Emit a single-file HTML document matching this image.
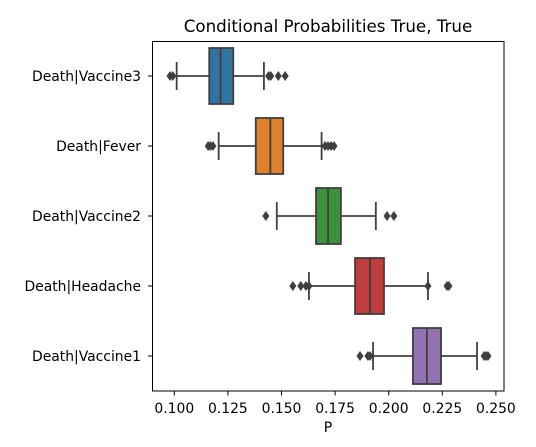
<!DOCTYPE html>
<html><head><meta charset="utf-8"><style>
body{margin:0;background:#fff;}
svg{display:block;font-family:"DejaVu Sans","Liberation Sans",sans-serif;}
</style></head><body>
<svg id="chart" width="536" height="447">
<text x="328" y="32" font-size="16.7" text-anchor="middle" fill="#000">Conditional Probabilities True, True</text>
<g id="plot"></g>
<rect x="152.5" y="41.5" width="351.5" height="349.5" fill="none" stroke="#000" stroke-width="1"/>
<text x="328" y="432" font-size="13.9" text-anchor="middle">P</text>
</svg>
<script>
const categories=["Death|Vaccine3","Death|Fever","Death|Vaccine2","Death|Headache","Death|Vaccine1"];
const q1=[0.1163,0.1380,0.1661,0.1843,0.2113];
const medians=[0.1216,0.1448,0.1717,0.1913,0.2178];
const q3=[0.1275,0.1508,0.1777,0.1978,0.2244];
const whiskLo=[0.1011,0.1207,0.1478,0.1628,0.1927];
const whiskHi=[0.1418,0.1687,0.1940,0.2183,0.2412];
const fliers=[[0.098,0.0993,0.144,0.145,0.1485,0.1517],[0.1158,0.1168,0.118,0.1703,0.1717,0.1731,0.1745],[0.1427,0.1992,0.2024],[0.1553,0.159,0.1614,0.1628,0.2183,0.2272,0.2281],[0.1866,0.1903,0.1913,0.2445,0.2454,0.2463]];
const xTicks=[0.100,0.125,0.150,0.175,0.200,0.225,0.250];
const colors=["#3274a1","#e1812c","#3a923a","#c03d3e","#9372b2"];
const NS="http://www.w3.org/2000/svg";
const svg=document.getElementById('chart');
const g=document.getElementById('plot');
const x=v=>174.3+(v-0.1)*2144;
const y=i=>76+i*70;
function mk(tag,attrs,parent){const e=document.createElementNS(NS,tag);for(const k in attrs)e.setAttribute(k,attrs[k]);(parent||g).appendChild(e);return e;}
xTicks.forEach(t=>{
  const l=mk('line',{x1:x(t),x2:x(t),y1:391,y2:395.5,stroke:'#000'},svg);
  
  
  const tx=mk('text',{x:x(t),y:413,'font-size':'13.9','text-anchor':'middle'},svg);
  tx.textContent=t.toFixed(3);
  
  
});
const lc='#3f3f3f';
categories.forEach((c,i)=>{
  const cy=y(i),h=28;
  const tk=mk('line',{x1:148,x2:152.5,y1:cy,y2:cy,stroke:'#000'},svg);
  
  
  const lab=mk('text',{x:141,y:cy+5,'font-size':'13.9','text-anchor':'end'},svg);
  lab.textContent=c;
  
  
  const grp=mk('g',{});
  
  
  mk('line',{x1:x(whiskLo[i]),x2:x(q1[i]),y1:cy,y2:cy,stroke:lc,'stroke-width':1.8},grp);
  mk('line',{x1:x(q3[i]),x2:x(whiskHi[i]),y1:cy,y2:cy,stroke:lc,'stroke-width':1.8},grp);
  mk('line',{x1:x(whiskLo[i]),x2:x(whiskLo[i]),y1:cy-14,y2:cy+14,stroke:lc,'stroke-width':1.8},grp);
  mk('line',{x1:x(whiskHi[i]),x2:x(whiskHi[i]),y1:cy-14,y2:cy+14,stroke:lc,'stroke-width':1.8},grp);
  mk('rect',{x:x(q1[i]),y:cy-h,width:x(q3[i])-x(q1[i]),height:2*h,fill:colors[i],stroke:lc,'stroke-width':1.8},grp);
  mk('line',{x1:x(medians[i]),x2:x(medians[i]),y1:cy-h,y2:cy+h,stroke:lc,'stroke-width':1.8},grp);
  fliers[i].forEach(f=>{
    const px=x(f);
    const d=mk('path',{d:`M${px-3.5},${cy} L${px},${cy-5} L${px+3.5},${cy} L${px},${cy+5} Z`,fill:lc},grp);
    
    
  });
});
</script>
</body></html>
